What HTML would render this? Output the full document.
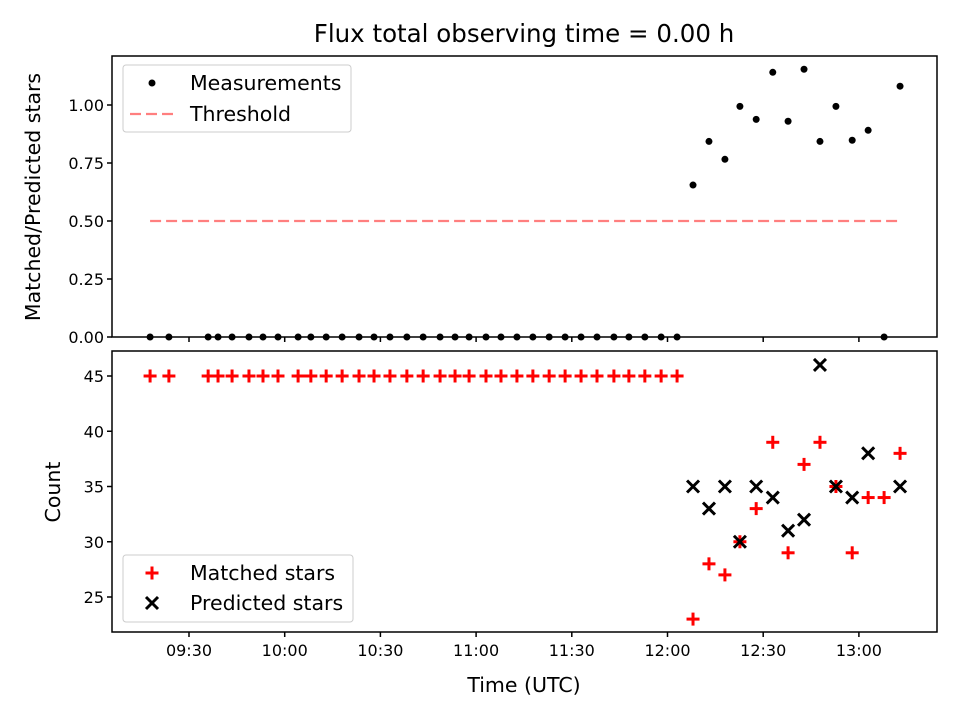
<!DOCTYPE html>
<html><head><meta charset="utf-8"><style>
body{margin:0;background:#fff;}
svg{display:block;font-family:"DejaVu Sans","Liberation Sans",sans-serif;}
</style></head><body>
<svg id="chart" width="960" height="720" xmlns="http://www.w3.org/2000/svg"></svg>
<script>
// data (times in minutes since midnight UTC)
const zeroTimes=[557.8,563.7,576,579.1,583.5,588.8,593.2,597.9,604.2,608.2,613,618,623.3,628,633,638.3,643.4,648.7,653.4,657.8,663.1,667.8,672.8,677.8,682.9,687.9,692.9,697.9,703.2,707.9,712.9,718,723];
const lateTimes=[728,733,738,742.7,747.8,753,757.8,762.8,767.8,772.8,777.9,782.9,787.9,792.9];
const lateRatio=[0.655,0.843,0.766,0.994,0.938,1.141,0.93,1.154,0.843,0.994,0.848,0.891,0,1.081];
const lateMatched=[23,28,27,30,33,39,29,37,39,35,29,34,34,38];
const latePredicted=[35,33,35,30,35,34,31,32,46,35,34,38,null,35];
const earlyMatched=45;
const threshold=0.5;
const xTicks=[570,600,630,660,690,720,750,780];
const xTickLabels=["09:30","10:00","10:30","11:00","11:30","12:00","12:30","13:00"];
const topTicks=[0,0.25,0.5,0.75,1.0];
const topTickLabels=["0.00","0.25","0.50","0.75","1.00"];
const botTicks=[25,30,35,40,45];

const svg=document.getElementById('chart');
const NS='http://www.w3.org/2000/svg';
function mk(tag,attrs,parent){const e=document.createElementNS(NS,tag);for(const k in attrs)e.setAttribute(k,attrs[k]);(parent||svg).appendChild(e);return e;}
const L=112,R=937,T1=56,B1=337,T2=351,B2=632;
const x=t=>189+(t-570)*(95.7/30);
const y1=v=>337-v*232;
const y2=v=>376+(45-v)*11.05;
const FS='16', LS='20.5';

// title
let t=mk('text',{x:524,y:42,'text-anchor':'middle','font-size':'24.5'});t.textContent='Flux total observing time = 0.00 h';


// threshold
let th=mk('line',{x1:x(557.8),x2:x(792.9),y1:y1(threshold),y2:y1(threshold),stroke:'#ff7f7f','stroke-width':2.2,'stroke-dasharray':'11,5'});


// top points
const allT=zeroTimes.concat(lateTimes), allR=zeroTimes.map(()=>0).concat(lateRatio);
allT.forEach((tt,i)=>{const c=mk('circle',{cx:x(tt),cy:y1(allR[i]),r:3.5,fill:'#000'});
});

// bottom points
function plus(cx,cy){const g=mk('g',{stroke:'#ff0000','stroke-width':3});mk('line',{x1:cx-6.5,x2:cx+6.5,y1:cy,y2:cy},g);mk('line',{x1:cx,x2:cx,y1:cy-6.5,y2:cy+6.5},g);return g;}
function cross(cx,cy){const g=mk('g',{stroke:'#000','stroke-width':3});mk('line',{x1:cx-6,x2:cx+6,y1:cy-6,y2:cy+6},g);mk('line',{x1:cx-6,x2:cx+6,y1:cy+6,y2:cy-6},g);return g;}
zeroTimes.forEach(tt=>{const g=plus(x(tt),y2(earlyMatched));
});
lateTimes.forEach((tt,i)=>{const g=plus(x(tt),y2(lateMatched[i]));
});
lateTimes.forEach((tt,i)=>{if(latePredicted[i]==null)return;const g=cross(x(tt),y2(latePredicted[i]));
});

// axes frames
let f1=mk('rect',{x:L,y:T1,width:R-L,height:B1-T1,fill:'none',stroke:'#000','stroke-width':1.5});

let f2=mk('rect',{x:L,y:T2,width:R-L,height:B2-T2,fill:'none',stroke:'#000','stroke-width':1.5});


// x ticks
xTicks.forEach((v,i)=>{const px=x(v);
mk('line',{x1:px,x2:px,y1:B1,y2:B1+5,stroke:'#000','stroke-width':1.5});
mk('line',{x1:px,x2:px,y1:B2,y2:B2+5,stroke:'#000','stroke-width':1.5});
const tx=mk('text',{x:px,y:B2+24,'text-anchor':'middle','font-size':FS});tx.textContent=xTickLabels[i];
});
topTicks.forEach((v,i)=>{const py=y1(v);
mk('line',{x1:L-5,x2:L,y1:py,y2:py,stroke:'#000','stroke-width':1.5});
const tx=mk('text',{x:L-8,y:py+6,'text-anchor':'end','font-size':FS});tx.textContent=topTickLabels[i];
});
botTicks.forEach(v=>{const py=y2(v);
mk('line',{x1:L-5,x2:L,y1:py,y2:py,stroke:'#000','stroke-width':1.5});
const tx=mk('text',{x:L-8,y:py+6,'text-anchor':'end','font-size':FS});tx.textContent=String(v);
});

// axis labels
let xl=mk('text',{x:524,y:692,'text-anchor':'middle','font-size':LS});xl.textContent='Time (UTC)';

let yl1=mk('text',{x:0,y:0,'text-anchor':'middle','font-size':LS,transform:'translate(40,197) rotate(-90)'});yl1.textContent='Matched/Predicted stars';

let yl2=mk('text',{x:0,y:0,'text-anchor':'middle','font-size':LS,transform:'translate(60,492) rotate(-90)'});yl2.textContent='Count';


// legends
let lg1=mk('g',{});
mk('rect',{x:123,y:65,width:228,height:67,rx:3,fill:'#fff',stroke:'#ccc'},lg1);
mk('circle',{cx:152,cy:83,r:3.5,fill:'#000'},lg1);
let a=mk('text',{x:190,y:90,'font-size':LS},lg1);a.textContent='Measurements';

mk('line',{x1:130,x2:174,y1:114,y2:114,stroke:'#ff7f7f','stroke-width':2.2,'stroke-dasharray':'11,5'},lg1);
let b=mk('text',{x:190,y:121,'font-size':LS},lg1);b.textContent='Threshold';


let lg2=mk('g',{});
mk('rect',{x:123,y:555,width:230,height:67,rx:3,fill:'#fff',stroke:'#ccc'},lg2);
lg2.appendChild(plus(152,573));
let c=mk('text',{x:190,y:580,'font-size':LS},lg2);c.textContent='Matched stars';

lg2.appendChild(cross(152,603));
let d=mk('text',{x:190,y:610,'font-size':LS},lg2);d.textContent='Predicted stars';

</script>
</body></html>
